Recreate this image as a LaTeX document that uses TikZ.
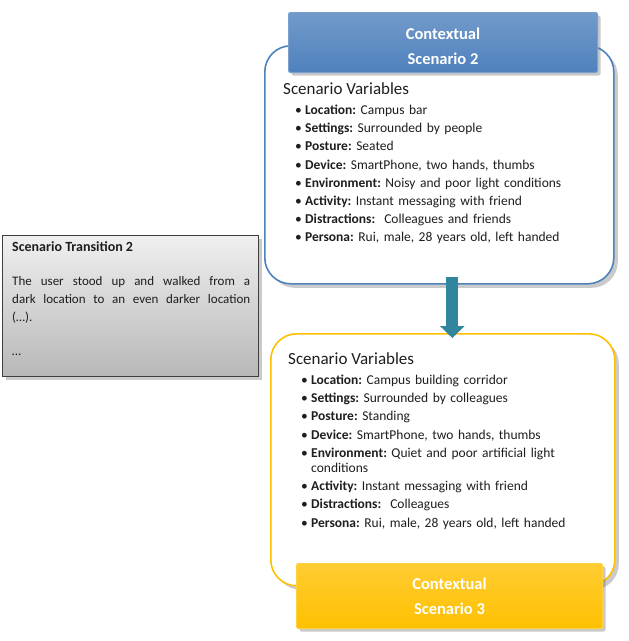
\documentclass[tikz,border=0pt]{standalone}
\usepackage{fontspec}
\setmainfont{Carlito}
\usepackage{xcolor}
\usepackage{tikz}
\usetikzlibrary{arrows.meta,positioning,shadows}
\definecolor{cBlue}{HTML}{4F81BD}
\definecolor{cGold}{HTML}{FFC000}
\definecolor{cTeal}{HTML}{31859C}
\definecolor{cInk}{HTML}{1E1E1E}
\definecolor{cEdge}{HTML}{3F3F3F}
\tikzset{
  scframe/.style={draw=#1,fill=white,rounded corners=26pt,line width=1.6pt,anchor=north west,
    drop shadow={shadow xshift=4pt,shadow yshift=-4pt,opacity=0.35,fill=black!60}},
  hdr/.style={draw=#1!75!white,top color=#1!80!white,bottom color=#1,rounded corners=2pt,line width=1pt,
    anchor=north west,align=center,text=white,inner sep=0pt,
    font={\fontsize{16.5}{25}\selectfont\bfseries},
    drop shadow={shadow xshift=3pt,shadow yshift=-3pt,opacity=0.35,fill=black!60}},
  trbox/.style={draw=cEdge,top color=white!94!black,bottom color=white!72!black,line width=1pt,anchor=north west,
    drop shadow={shadow xshift=3pt,shadow yshift=-3pt,opacity=0.35,fill=black!60}},
  vtitle/.style={anchor=west,inner sep=0pt,text=cInk,font={\fontsize{17}{20}\selectfont}},
  vlist/.style={anchor=north west,inner sep=0pt,text=cInk,align=left,text width=#1,
    font={\fontsize{13.5}{15.2}\selectfont\parskip=3pt\frenchspacing}},
  flowarr/.style={-{Triangle[width=24pt,length=12pt]},line width=12pt,color=cTeal},
}
% one bullet line of a variable list, wrapped lines hang under the text
\newcommand{\svitem}[2]{\par\hangindent=10pt\hangafter=1\noindent\makebox[10pt][l]{\textbullet}\textbf{#1:} #2}

\begin{document}
\begin{tikzpicture}[x=1pt,y=-1pt]
  \useasboundingbox (0,0) rectangle (629,641);

  % scenario 2
  \node[scframe=cBlue,minimum width=349,minimum height=238] (s2box) at (264,45) {};
  \node[hdr=cBlue,minimum width=309,minimum height=60] (s2head) at (288,12) {\rule{0pt}{19pt}Contextual\\Scenario 2};
  \node[vtitle] (s2title) at (283,89) {Scenario Variables};
  \node[vlist=300] (s2vars) at (295,96) {%
    \svitem{Location}{Campus bar}
    \svitem{Settings}{Surrounded by people}
    \svitem{Posture}{Seated}
    \svitem{Device}{SmartPhone, two hands, thumbs}
    \svitem{Environment}{Noisy and poor light conditions}
    \svitem{Activity}{Instant messaging with friend}
    \svitem{Distractions}{\ Colleagues and friends}
    \svitem{Persona}{Rui, male, 28 years old, left handed}};

  % transition note
  \node[trbox,minimum width=256,minimum height=141] (trans) at (2,235) {};
  \node[anchor=west,inner sep=0pt,text=cInk,font={\fontsize{14}{16}\selectfont\bfseries}] (transtitle) at (12,247) {Scenario Transition 2};
  \node[anchor=north west,inner sep=0pt,text=cInk,text width=238,align=justify,
    font={\fontsize{13}{18}\selectfont\frenchspacing}] (transtext) at (12,276) {%
    The user stood up and walked from a\linebreak dark location to an even darker location\linebreak (…).\par\vskip 16pt\noindent …};

  % scenario 3
  \node[scframe=cGold,minimum width=344,minimum height=252] (s3box) at (270,333) {};
  \node[hdr=cGold,minimum width=306,minimum height=65] (s3head) at (296,563) {Contextual\\Scenario 3};
  \node[vtitle] (s3title) at (288,359) {Scenario Variables};
  \node[vlist=290] (s3vars) at (301,366) {%
    \svitem{Location}{Campus building corridor}
    \svitem{Settings}{Surrounded by colleagues}
    \svitem{Posture}{Standing}
    \svitem{Device}{SmartPhone, two hands, thumbs}
    \svitem{Environment}{Quiet and poor artificial light\newline conditions}
    \svitem{Activity}{Instant messaging with friend}
    \svitem{Distractions}{\ Colleagues}
    \svitem{Persona}{Rui, male, 28 years old, left handed}};

  \coordinate (arrtop) at ([xshift=13pt,yshift=8pt]s2box.south);
  \draw[flowarr] (arrtop) -- ([yshift=-5pt]arrtop |- s3box.north);
\end{tikzpicture}
\end{document}
